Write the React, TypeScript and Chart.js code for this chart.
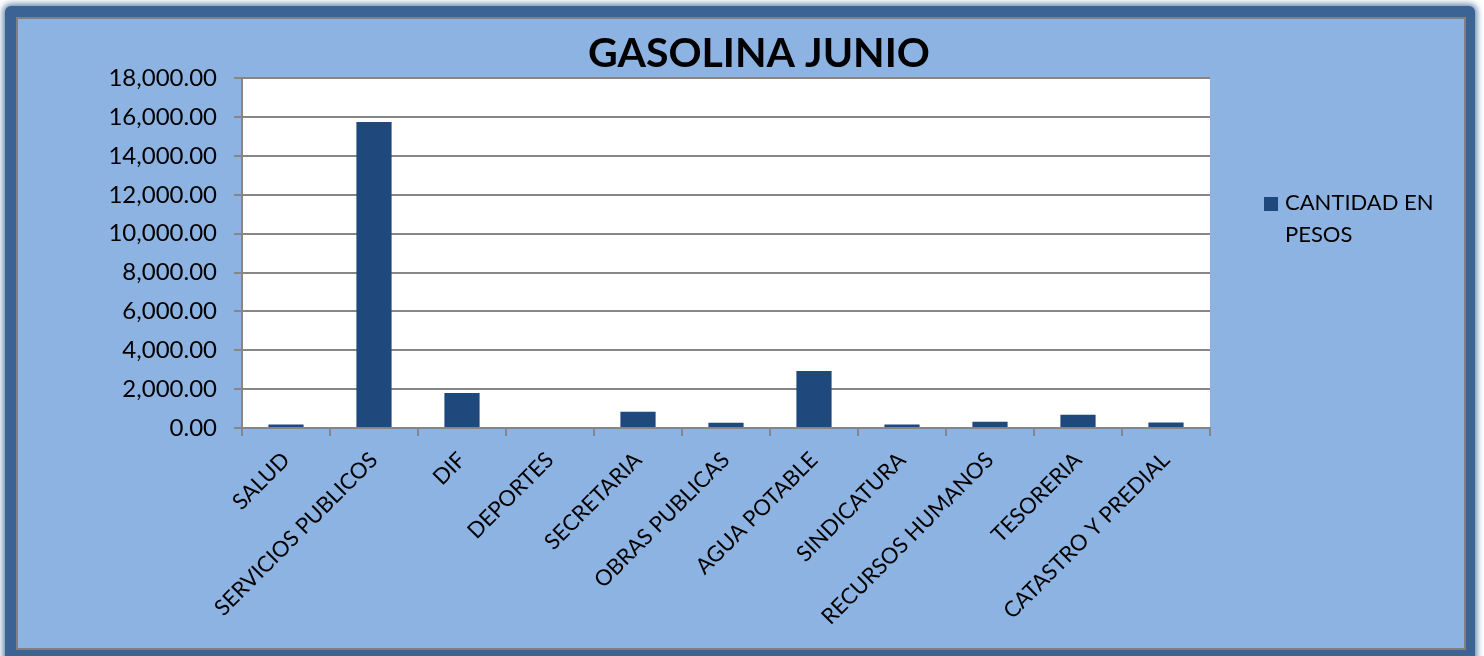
import React, { useEffect, useRef } from "react";
import { Chart, registerables } from "chart.js";

Chart.register(...registerables);

const TITLE = "GASOLINA JUNIO";
const SERIES_LABEL = ["CANTIDAD EN", "PESOS"];
const CATEGORIES = [
  "SALUD",
  "SERVICIOS PUBLICOS",
  "DIF",
  "DEPORTES",
  "SECRETARIA",
  "OBRAS PUBLICAS",
  "AGUA POTABLE",
  "SINDICATURA",
  "RECURSOS HUMANOS",
  "TESORERIA",
  "CATASTRO Y PREDIAL",
];
const VALUES = [180, 15750, 1800, 0, 840, 275, 2930, 180, 325, 685, 280];
const Y_MIN = 0;
const Y_MAX = 18000;
const Y_STEP = 2000;

const BAR_COLOR = "#1F497D";
const GRID_COLOR = "#868686";
const FONT = "Lato";

const plotBg = {
  id: "plotBg",
  beforeDraw(chart: any) {
    const { ctx, chartArea } = chart;
    ctx.save();
    ctx.fillStyle = "#FFFFFF";
    ctx.fillRect(chartArea.left, chartArea.top, chartArea.right - chartArea.left, chartArea.bottom - chartArea.top);
    ctx.restore();
  },
};

const sideLegend = {
  id: "sideLegend",
  afterDraw(chart: any) {
    const { ctx, chartArea } = chart;
    const x0 = chartArea.right + 54;
    const y0 = 197;
    ctx.save();
    ctx.fillStyle = BAR_COLOR;
    ctx.fillRect(x0, y0, 14, 14);
    ctx.fillStyle = "#000000";
    ctx.font = `22px ${FONT}`;
    ctx.textBaseline = "alphabetic";
    ctx.textAlign = "left";
    SERIES_LABEL.forEach((line, i) => {
      ctx.fillText(line, x0 + 21, y0 + 13 + i * 32);
    });
    ctx.restore();
  },
};

export default function App() {
  const ref = useRef<HTMLCanvasElement | null>(null);

  useEffect(() => {
    let chart: Chart | null = null;
    let cancelled = false;
    const make = () => {
      if (cancelled || !ref.current) return;
      chart = new Chart(ref.current, {
        type: "bar",
        data: {
          labels: CATEGORIES,
          datasets: [
            {
              label: SERIES_LABEL.join(" "),
              data: VALUES,
              backgroundColor: BAR_COLOR,
              borderWidth: 0,
              barPercentage: 0.4,
              categoryPercentage: 1.0,
            },
          ],
        },
        options: {
          animation: false,
          responsive: false,
          maintainAspectRatio: false,
          layout: { padding: { left: 34, right: 0, top: 28, bottom: 0 } },
          plugins: {
            legend: { display: false },
            tooltip: { enabled: false },
            title: {
              display: true,
              text: TITLE,
              color: "#000000",
              font: { family: FONT, size: 41, weight: "bold", lineHeight: 1.2 },
              padding: { top: 1, bottom: 0 },
            },
          },
          scales: {
            x: {
              type: "category",
              offset: true,
              grid: {
                display: true,
                offset: true,
                drawOnChartArea: false,
                drawTicks: true,
                tickLength: 8,
                color: GRID_COLOR,
                lineWidth: 2,
              },
              border: { display: true, color: GRID_COLOR, width: 2 },
              ticks: {
                autoSkip: false,
                maxRotation: 45,
                minRotation: 45,
                padding: 11,
                color: "#000000",
                font: { family: FONT, size: 22 },
              },
              afterFit: (s: any) => {
                s.height = 228;
              },
            },
            y: {
              type: "linear",
              position: "left",
              min: Y_MIN,
              max: Y_MAX,
              grid: {
                color: GRID_COLOR,
                lineWidth: 2,
                drawTicks: true,
                tickLength: 8,
              },
              border: { display: true, color: GRID_COLOR, width: 2 },
              ticks: {
                stepSize: Y_STEP,
                padding: 17,
                color: "#000000",
                font: { family: FONT, size: 24 },
                callback: (v: any) =>
                  Number(v).toLocaleString("en-US", { minimumFractionDigits: 2, maximumFractionDigits: 2 }),
              },
              afterFit: (s: any) => {
                s.width = 208;
              },
            },
            y2: {
              type: "linear",
              position: "right",
              display: true,
              grid: { display: false, drawTicks: false },
              border: { display: false },
              ticks: { display: false },
              afterFit: (s: any) => {
                s.width = 274;
              },
            },
          },
        },
        plugins: [plotBg, sideLegend],
      });
    };
    const fontsReady = (document as any).fonts
      ? Promise.all([
          (document as any).fonts.load(`22px ${FONT}`),
          (document as any).fonts.load(`bold 41px ${FONT}`),
        ]).catch(() => null)
      : Promise.resolve(null);
    fontsReady.then(make);
    return () => {
      cancelled = true;
      if (chart) chart.destroy();
    };
  }, []);

  return (
    <div style={{ position: "fixed", left: 0, top: 0, width: 1484, height: 656, background: "#FFFFFF", overflow: "hidden" }}>
      <div
        style={{
          position: "absolute",
          left: 5,
          top: 6,
          width: 1470,
          height: 660,
          background: "#3B6494",
          borderRadius: 6,
          boxShadow: "0 0 6px 2px rgba(59,100,148,0.8)",
        }}
      />
      <div
        style={{
          position: "absolute",
          left: 16,
          top: 17,
          width: 1450,
          height: 633,
          boxSizing: "border-box",
          background: "#8DB3E2",
          border: "2px solid #808080",
        }}
      />
      <canvas ref={ref} width={1484} height={656} style={{ position: "absolute", left: 0, top: 0, width: 1484, height: 656 }} />
    </div>
  );
}
